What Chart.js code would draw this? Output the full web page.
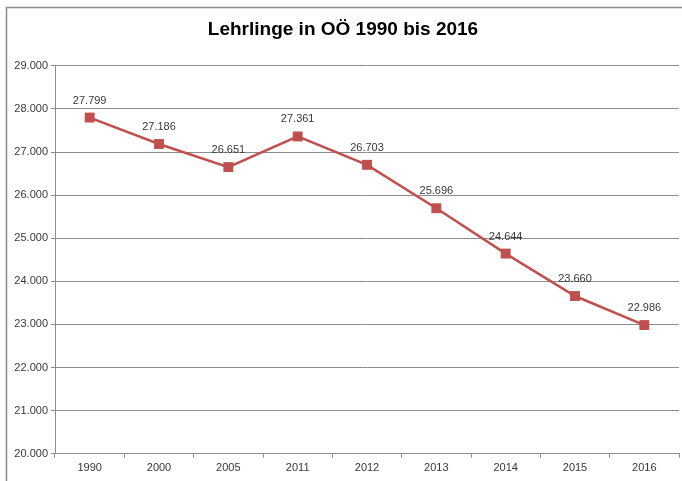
<!DOCTYPE html>
<html>
<head>
<meta charset="utf-8">
<script src="https://cdn.jsdelivr.net/npm/chart.js@4"></script>
<style>
  html, body { margin: 0; padding: 0; background: #ffffff; }
  #wrap { width: 682px; height: 481px; position: relative; }
</style>
</head>
<body>
<div id="wrap"><canvas id="c" width="682" height="481"></canvas></div>
<script>
const title = "Lehrlinge in OÖ 1990 bis 2016";
const categories = ["1990", "2000", "2005", "2011", "2012", "2013", "2014", "2015", "2016"];
const lehrlinge = [27799, 27186, 26651, 27361, 26703, 25696, 24644, 23660, 22986];
const yMin = 20000, yMax = 29000, yStep = 1000;

const fmt = v => {
  const s = Math.round(v).toString();
  return s.slice(0, s.length - 3) + "." + s.slice(s.length - 3);
};

const FONT = "'Liberation Sans', Arial, sans-serif";

const framePlugin = {
  id: 'frame',
  beforeDraw(chart) {
    const ctx = chart.ctx;
    ctx.save();
    ctx.strokeStyle = '#8c8c8c';
    ctx.lineWidth = 1.5;
    ctx.beginPath();
    ctx.moveTo(6.5, 481);
    ctx.lineTo(6.5, 7.5);
    ctx.lineTo(682, 7.5);
    ctx.stroke();
    ctx.restore();
  }
};

const labelPlugin = {
  id: 'valueLabels',
  afterDatasetsDraw(chart) {
    const ctx = chart.ctx;
    const meta = chart.getDatasetMeta(0);
    ctx.save();
    ctx.font = "11px " + FONT;
    ctx.fillStyle = '#383838';
    ctx.textAlign = 'center';
    ctx.textBaseline = 'middle';
    meta.data.forEach((pt, i) => {
      const v = chart.data.datasets[0].data[i];
      ctx.fillText(fmt(v), pt.x, pt.y - 17);
    });
    ctx.restore();
  }
};

new Chart(document.getElementById('c'), {
  type: 'line',
  data: {
    labels: categories,
    datasets: [{
      label: 'Lehrlinge',
      data: lehrlinge,
      borderColor: '#C0504D',
      backgroundColor: '#C0504D',
      borderWidth: 2.5,
      pointStyle: 'rect',
      pointRadius: 7,
      pointBorderWidth: 0,
      pointBackgroundColor: '#C0504D',
      tension: 0,
      fill: false,
      clip: false
    }]
  },
  options: {
    responsive: false,
    animation: false,
    devicePixelRatio: 1,
    layout: { autoPadding: false, padding: { left: 7, right: 3, top: 18, bottom: 2 } },
    plugins: {
      legend: { display: false },
      tooltip: { enabled: false },
      title: {
        display: true,
        text: title,
        color: '#000000',
        font: { family: FONT, size: 19, weight: 'bold' },
        padding: { top: 0, bottom: 25 }
      }
    },
    scales: {
      x: {
        offset: true,
        grid: {
          offset: true,
          drawOnChartArea: false,
          drawTicks: true,
          tickLength: 4,
          color: '#8c8c8c'
        },
        border: { display: true, color: '#8c8c8c', width: 1 },
        ticks: {
          color: '#383838',
          font: { family: FONT, size: 11 },
          padding: 4,
          maxRotation: 0
        }
      },
      y: {
        min: yMin,
        max: yMax,
        afterFit(scale) { scale.width = 48; },
        grid: {
          color: '#8c8c8c',
          drawTicks: true,
          tickLength: 4
        },
        border: { display: true, color: '#8c8c8c', width: 1 },
        ticks: {
          stepSize: yStep,
          color: '#383838',
          font: { family: FONT, size: 11 },
          padding: 3,
          callback: v => fmt(v)
        }
      }
    }
  },
  plugins: [framePlugin, labelPlugin]
});
</script>
</body>
</html>
